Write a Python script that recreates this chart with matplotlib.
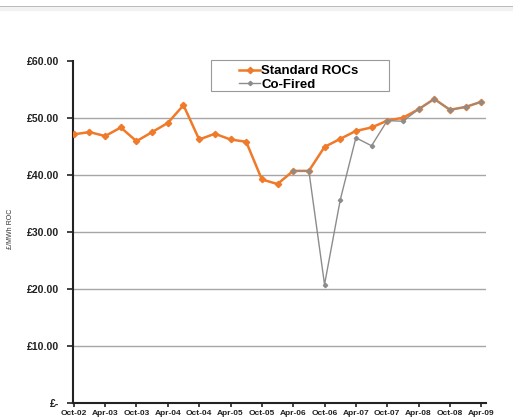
import matplotlib
matplotlib.use("Agg")
import matplotlib.pyplot as plt
from matplotlib.lines import Line2D
from matplotlib.patches import Rectangle
import numpy as np

# Quarterly ROC prices, Oct-02 to Apr-09
quarters = ["Oct-02", "Jan-03", "Apr-03", "Jul-03", "Oct-03", "Jan-04", "Apr-04", "Jul-04",
            "Oct-04", "Jan-05", "Apr-05", "Jul-05", "Oct-05", "Jan-06", "Apr-06", "Jul-06",
            "Oct-06", "Jan-07", "Apr-07", "Jul-07", "Oct-07", "Jan-08", "Apr-08", "Jul-08",
            "Oct-08", "Jan-09", "Apr-09"]
standard_rocs = [47.1, 47.5, 46.8, 48.3, 45.9, 47.5, 49.1, 52.2, 46.2, 47.2, 46.2, 45.8,
                 39.2, 38.4, 40.7, 40.7, 44.9, 46.3, 47.7, 48.3, 49.5, 50.0, 51.5, 53.3,
                 51.4, 51.9, 52.8]
co_fired = [None] * 14 + [40.7, 40.7, 20.8, 35.6, 46.5, 45.1, 49.5, 49.4, 51.5, 53.3,
                          51.4, 51.9, 52.8]
tick_labels = quarters[::2]
y_ticks = [0, 10, 20, 30, 40, 50, 60]
y_tick_labels = ["£-", "£10.00", "£20.00", "£30.00", "£40.00", "£50.00", "£60.00"]

orange = "#EE7A2A"
grey = "#8C8C8C"

plt.rcParams["font.family"] = ["Liberation Sans", "DejaVu Sans"]

fig = plt.figure(figsize=(5.13, 4.2), dpi=100)
ax = fig.add_axes([0.1423, 0.0398, 0.805, 0.8157])

x = np.arange(len(quarters))
cf_x = [i for i, v in enumerate(co_fired) if v is not None]
cf_y = [v for v in co_fired if v is not None]

for v in y_ticks[1:-1]:
    ax.axhline(v, color="#A6A6A6", lw=1.0, zorder=1)

ax.plot(x, standard_rocs, color=orange, lw=1.8, marker="D", ms=3.2,
        mfc=orange, mec=orange, zorder=3, label="Standard ROCs")
ax.plot(cf_x, cf_y, color=grey, lw=1.0, marker="D", ms=2.2,
        mfc=grey, mec=grey, zorder=4, label="Co-Fired")

ax.set_xlim(-0.05, 26.3)
ax.set_ylim(0, 60)
ax.set_yticks(y_ticks)
ax.set_yticklabels(y_tick_labels, fontsize=7.6, fontweight="bold")
ax.set_xticks(x[::2])
ax.set_xticklabels(tick_labels, fontsize=6, fontweight="bold")

for side in ("top", "right"):
    ax.spines[side].set_visible(False)
for side in ("left", "bottom"):
    ax.spines[side].set_linewidth(1.5)
    ax.spines[side].set_color("#222222")
ax.tick_params(axis="y", length=4, width=1.2, pad=6, colors="#222222")
ax.tick_params(axis="x", length=3, width=1.2, pad=2, colors="#222222")

fig.text(0.02, 0.455, "£/MWh ROC", rotation=90, fontsize=5, color="#333333",
         ha="center", va="center")

# Legend box drawn separately so the entries sit with wide side margins
ax.add_patch(Rectangle((0.334, 0.912), 0.43, 0.09, transform=ax.transAxes,
                       facecolor="white", edgecolor="#999999", lw=0.8,
                       zorder=5, clip_on=False))
leg = ax.legend(loc="upper left", bbox_to_anchor=(0.402, 0.987), fontsize=9.5,
                frameon=False, borderpad=0.0, handlelength=1.6,
                handletextpad=0.1, labelspacing=0.08, borderaxespad=0.0)
leg.set_zorder(6)
for t in leg.get_texts():
    t.set_fontweight("bold")

fig.add_artist(Line2D([0, 1], [0.984, 0.984], transform=fig.transFigure,
                      color="#AAAAAA", lw=1.2))
fig.add_artist(Line2D([0, 1], [0.978, 0.978], transform=fig.transFigure,
                      color="#F2F2F2", lw=3))

fig.savefig("out.png", dpi=100, facecolor="white")
